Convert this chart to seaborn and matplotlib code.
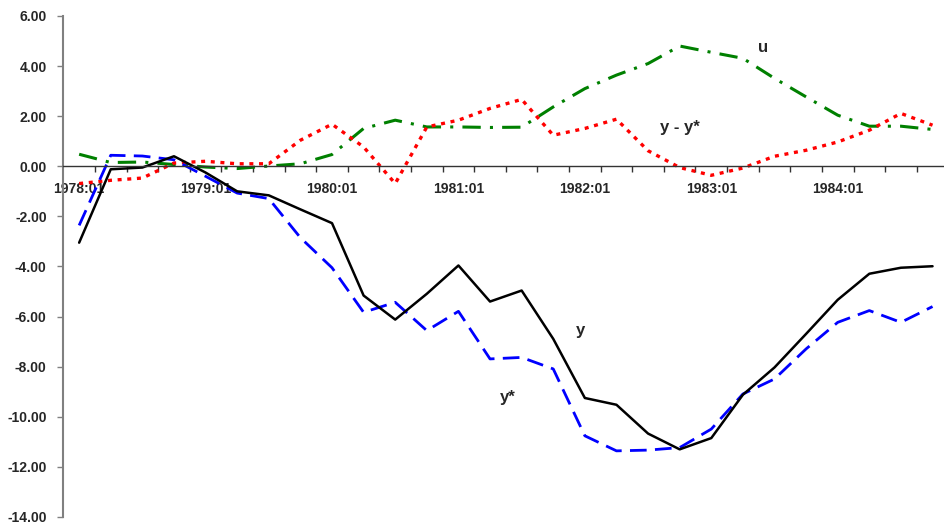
import matplotlib
matplotlib.use("Agg")
import matplotlib.pyplot as plt
import matplotlib.ticker as mticker
import numpy as np
import pandas as pd
import seaborn as sns

# Quarterly periods 1978:01 - 1984:04
quarters = [f"{yr}:{q:02d}" for yr in range(1978, 1985) for q in range(1, 5)]
tick_labels = ["1978:01", "1979:01", "1980:01", "1981:01", "1982:01", "1983:01", "1984:01"]

y_actual = [-3.05, -0.12, -0.05, 0.40, -0.25, -1.00, -1.16, -1.72, -2.27,
            -5.16, -6.12, -5.09, -3.96, -5.40, -4.96, -6.89, -9.25, -9.52,
            -10.67, -11.30, -10.85, -9.12, -8.03, -6.69, -5.33, -4.29, -4.05, -3.99]
y_star = [-2.36, 0.44, 0.41, 0.26, -0.40, -1.07, -1.29, -2.85, -4.05,
          -5.83, -5.43, -6.56, -5.79, -7.69, -7.63, -8.09, -10.76, -11.36,
          -11.33, -11.23, -10.49, -9.09, -8.49, -7.29, -6.23, -5.76, -6.23, -5.60]
u_rate = [0.48, 0.15, 0.17, 0.07, -0.03, -0.09, 0.01, 0.10, 0.47,
          1.51, 1.84, 1.57, 1.57, 1.55, 1.56, 2.37, 3.10, 3.64,
          4.10, 4.80, 4.55, 4.31, 3.51, 2.77, 2.04, 1.60, 1.60, 1.47]
gap = [-0.69, -0.56, -0.47, 0.13, 0.20, 0.10, 0.10, 1.04, 1.68,
       0.77, -0.69, 1.57, 1.84, 2.31, 2.67, 1.24, 1.51, 1.88,
       0.62, -0.05, -0.36, -0.07, 0.40, 0.64, 0.97, 1.44, 2.11, 1.64]

sns.set_style("white")
plt.rcParams["font.family"] = ["Liberation Sans", "DejaVu Sans"]
plt.rcParams["axes.unicode_minus"] = False

df = pd.DataFrame({"t": np.arange(len(quarters)), "y": y_actual,
                   "ystar": y_star, "u": u_rate, "gap": gap})

fig = plt.figure(figsize=(9.44, 5.29), dpi=100)
ax = fig.add_axes([0.0671, 0.0227, 0.9375, 0.9471])

sns.lineplot(data=df, x="t", y="u", ax=ax, color="#008000", lw=2.2)
ax.lines[-1].set_dashes([6, 3, 1, 3])
sns.lineplot(data=df, x="t", y="gap", ax=ax, color="#ff0000", lw=2.4)
ax.lines[-1].set_dashes([1.2, 1.7])
sns.lineplot(data=df, x="t", y="ystar", ax=ax, color="#0000ff", lw=2.0)
ax.lines[-1].set_dashes([6, 3])
sns.lineplot(data=df, x="t", y="y", ax=ax, color="black", lw=1.8)

ax.set_xlim(-0.5, len(quarters) - 0.5)
ax.set_ylim(-14, 6)
ax.set_xlabel("")
ax.set_ylabel("")

# y axis
ax.yaxis.set_major_locator(mticker.MultipleLocator(2))
ax.yaxis.set_major_formatter(mticker.FormatStrFormatter("%.2f"))
ax.tick_params(axis="y", direction="out", length=4, width=1, color="#808080",
               pad=8, labelsize=10, left=True)
for lbl in ax.get_yticklabels():
    lbl.set_fontweight("bold")

# x axis through zero, tick marks between quarters, labels on first quarters
ax.spines["bottom"].set_position(("data", 0))
ax.spines["bottom"].set_color("#333333")
ax.spines["bottom"].set_linewidth(1.0)
ax.spines["left"].set_color("#808080")
ax.spines["left"].set_linewidth(1.5)
ax.spines["top"].set_visible(False)
ax.spines["right"].set_visible(False)

ax.xaxis.set_major_locator(mticker.FixedLocator(np.arange(len(quarters)) + 0.5))
ax.xaxis.set_major_formatter(mticker.NullFormatter())
ax.xaxis.set_minor_locator(mticker.FixedLocator([quarters.index(l) for l in tick_labels]))
ax.xaxis.set_minor_formatter(mticker.FixedFormatter(tick_labels))
ax.tick_params(axis="x", which="major", direction="out", length=4, width=1,
               color="#333333", bottom=True)
ax.tick_params(axis="x", which="minor", length=0, pad=11, labelsize=10)
for lbl in ax.get_xticklabels(minor=True):
    lbl.set_fontweight("bold")

# series labels
for txt, xk, yv in [("u", 21.64, 4.76), ("y - y*", 19.0, 1.56),
                    ("y", 15.85, -6.56), ("y*", 13.57, -9.24)]:
    ax.text(xk, yv, txt, fontsize=12, fontweight="bold", ha="center", va="center")

fig.savefig("out.png", dpi=100)
